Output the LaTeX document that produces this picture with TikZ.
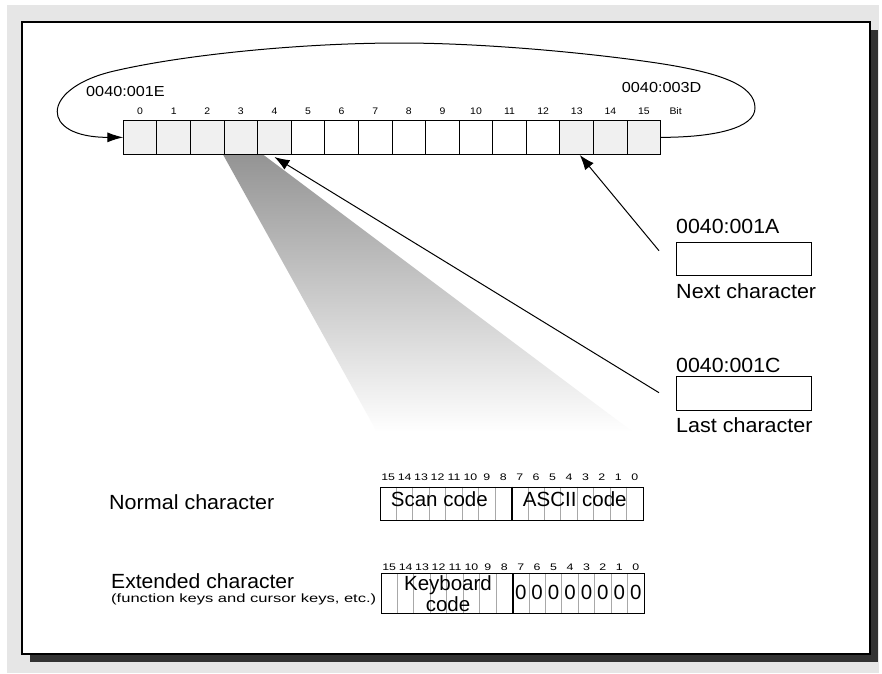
\documentclass[tikz,border=0pt]{standalone}
\usepackage{graphicx}
\usepackage{fontspec}
\setmainfont{Liberation Sans}
\usetikzlibrary{arrows.meta,calc}
\definecolor{bggray}{HTML}{E6E6E6}
\definecolor{shadowgray}{HTML}{333333}
\definecolor{cellgray}{HTML}{F0F0F0}
\definecolor{sepgray}{HTML}{A8A8A8}
\newcommand\bigfnt{\fontsize{20.5}{21}\selectfont}
\newcommand\midfnt{\fontsize{14.5}{16}\selectfont}
\newcommand\subfnt{\fontsize{12}{13}\selectfont}
\newcommand\tinyfnt{\fontsize{9.5}{11}\selectfont}
\newcommand\wide[2]{\scalebox{#1}[1]{#2}}
\begin{document}
\begin{tikzpicture}[x=1pt,y=-1pt,
  cell/.style={draw, line width=1pt, minimum width=33.59pt, minimum height=33.3pt, inner sep=0pt, outer sep=0pt},
  bitlab/.style={inner sep=0pt, anchor=base, font=\tinyfnt},
  bigtxt/.style={inner sep=0pt, font=\bigfnt},
  midtxt/.style={inner sep=0pt, font=\midfnt},
  subtxt/.style={inner sep=0pt, font=\subfnt},
  ptr/.style={line width=1pt, -{Latex[length=15pt,width=11pt]}},
  regbox/.style={draw, line width=1pt, minimum width=134.7pt, minimum height=33.5pt, inner sep=0pt, anchor=north west},
  field/.style={draw, line width=1pt, minimum width=263pt, inner sep=0pt, anchor=north west},
  sep/.style={sepgray, line width=0.8pt},
  thicksep/.style={line width=2pt}]
\useasboundingbox (0,0) rectangle (882,673);
% background, shadow, page
\fill[bggray] (7,5) rectangle (879,673);
\fill[shadowgray] (30,30) rectangle (878,662);
\draw[fill=white, line width=1.2pt] (22,22) rectangle (870,654);
% beam
\shade[top color=black!42, bottom color=white] (223,154.5) -- (263,154.5) -- (633,432) -- (377,432) -- cycle;
% cells
\foreach \i in {0,1,2,3,4,13,14,15} {
  \node[cell, fill=cellgray] (c\i) at ({123.3+(\i+0.5)*33.59},137.35) {};
}
\foreach \i in {5,...,12} {
  \node[cell, fill=white] (c\i) at ({123.3+(\i+0.5)*33.59},137.35) {};
}
\foreach \i in {0,...,15} {
  \node[bitlab] (b\i) at ({123.3+(\i+0.5)*33.59},114) {\wide{1.1}{\i}};
}
\node[bitlab] (bitw) at (675.6,114) {\wide{1.1}{Bit}};
\node[midtxt, anchor=base west] (addrL) at (86,96) {\wide{1.12}{0040:001E}};
\node[midtxt, anchor=base west] (addrR) at (621.7,92.7) {\wide{1.12}{0040:003D}};
% loop
\draw[line width=1pt, -{Latex[length=16pt,width=10pt]}] (c15.east) .. controls (715,137.35) and (755,128) .. (755,108)
  .. controls (755,85) and (720,72) .. (650,62)
  .. controls (580,52) and (480,43) .. (400,43)
  .. controls (300,43) and (180,55) .. (110,72)
  .. controls (40,90) and (40,137.35) .. (c0.west);
% pointer registers
\node[regbox] (nextbox) at (676,241.7) {};
\node[bigtxt, anchor=base west] (nextaddr) at (676,233.3) {\wide{1.04}{0040:001A}};
\node[bigtxt, anchor=base west] (nextlab) at (676,298.3) {\wide{1.05}{Next character}};
\node[regbox] (lastbox) at (676,376) {};
\node[bigtxt, anchor=base west] (lastaddr) at (676,372.7) {\wide{1.04}{0040:001C}};
\node[bigtxt, anchor=base west] (lastlab) at (676,432.7) {\wide{1.05}{Last character}};
\coordinate (p1) at (659,250.7);
\coordinate (p2) at (659,392.7);
\draw[ptr] (p1) -- ($(c13.south)+(3,1)$);
\draw[ptr] (p2) -- ($(c4.south)+(0,3)$);
% normal character field
\foreach \k in {1,...,15} { \draw[sep] ({380+\k*16.4375},486.7) -- ++(0,33.3); }
\node[field, minimum height=33.3pt] (nf) at (380,486.7) {};
\draw[thicksep] (512,486.7) -- (512,520);
\foreach \b in {0,...,15} {
  \node[bitlab] (nb\b) at ({380+(15-\b+0.5)*16.4375},480) {\wide{1.3}{\b}};
}
\node[bigtxt, anchor=base west] (scan) at (390.7,506.7) {Scan code};
\node[bigtxt, anchor=base west] (ascii) at (522.7,506.7) {ASCII code};
\node[bigtxt, anchor=base west] (normlab) at (109,509) {\wide{1.05}{Normal character}};
% extended character field
\foreach \k in {1,...,15} { \draw[sep] ({381+\k*16.4375},573.3) -- ++(0,39.4); }
\node[field, minimum height=39.4pt] (ef) at (381,573.3) {};
\draw[thicksep] (513,573.3) -- (513,612.7);
\foreach \b in {0,...,15} {
  \node[bitlab] (eb\b) at ({381+(15-\b+0.5)*16.4375},570.7) {\wide{1.3}{\b}};
}
\foreach \b in {0,...,7} {
  \node[bigtxt, anchor=base] (z\b) at ({381+(15-\b+0.5)*16.4375},599.3) {0};
}
\node[bigtxt, anchor=base] (kb1) at (448,590) {Keyboard};
\node[bigtxt, anchor=base] (kb2) at (448,611) {code};
\node[bigtxt, anchor=base west] (extlab) at (111,588) {\wide{1.03}{Extended character}};
\node[subtxt, anchor=base west] (extsub) at (111,602) {\wide{1.38}{(function keys and cursor keys, etc.)}};
\end{tikzpicture}
\end{document}
